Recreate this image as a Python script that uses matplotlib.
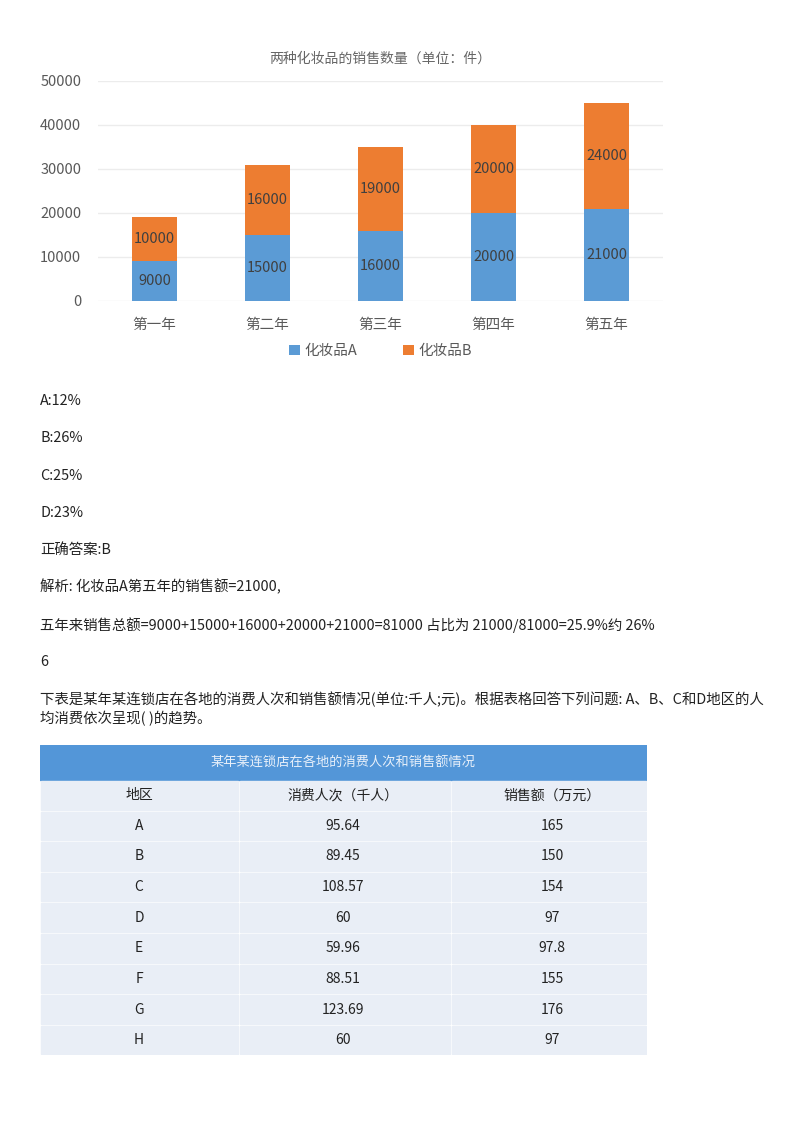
import numpy as np
import matplotlib.pyplot as plt
from matplotlib.patches import Rectangle

plt.rcParams['font.family'] = ['Noto Sans CJK SC', 'DejaVu Sans']

# ---------------------- 数据 ----------------------
years = ['第一年', '第二年', '第三年', '第四年', '第五年']
sales_a = [9000, 15000, 16000, 20000, 21000]
sales_b = [10000, 16000, 19000, 20000, 24000]
chart_title = '两种化妆品的销售数量（单位：件）'

text_lines = [
    'A:12%',
    'B:26%',
    'C:25%',
    'D:23%',
    '正确答案:B',
    '解析: 化妆品A第五年的销售额=21000,',
    '五年来销售总额=9000+15000+16000+20000+21000=81000 占比为 21000/81000=25.9%约 26%',
    '6',
    '下表是某年某连锁店在各地的消费人次和销售额情况(单位:千人;元)。根据表格回答下列问题: A、B、C和D地区的人',
    '均消费依次呈现( )的趋势。',
]
text_y = [401, 438, 476, 513, 550, 587, 625, 662, 699, 719]

table_title = '某年某连锁店在各地的消费人次和销售额情况'
table_cols = ['地区', '消费人次（千人）', '销售额（万元）']
regions = ['A', 'B', 'C', 'D', 'E', 'F', 'G', 'H']
visits = ['95.64', '89.45', '108.57', '60', '59.96', '88.51', '123.69', '60']
revenue = ['165', '150', '154', '97', '97.8', '155', '176', '97']

W, H = 800, 1132
fig = plt.figure(figsize=(W / 100, H / 100), dpi=100)


def px_axes(x0, y0, x1, y1):
    # 以像素(左上角为原点)定义坐标轴位置
    return fig.add_axes([x0 / W, 1 - y1 / H, (x1 - x0) / W, (y1 - y0) / H])


# ---------------------- 柱状图 ----------------------
ax = px_axes(98, 81, 663, 301)
x = np.arange(len(years))
blue, orange = '#5b9bd5', '#ed7d31'
ax.bar(x, sales_a, width=0.4, color=blue, label='化妆品A', zorder=2)
ax.bar(x, sales_b, width=0.4, bottom=sales_a, color=orange, label='化妆品B', zorder=2)
for i in range(len(years)):
    ax.text(x[i], sales_a[i] / 2, str(sales_a[i]), ha='center', va='center',
            fontsize=10.5, color='#404040')
    ax.text(x[i], sales_a[i] + sales_b[i] / 2, str(sales_b[i]), ha='center',
            va='center', fontsize=10.5, color='#404040')
ax.set_xlim(-0.5, 4.5)
ax.set_ylim(0, 50000)
ax.set_yticks(range(0, 50001, 10000))
ax.set_xticks(x)
ax.set_xticklabels(years, fontsize=10.5, color='#595959')
ax.tick_params(axis='y', labelsize=10.5, labelcolor='#595959', length=0, pad=12)
ax.tick_params(axis='x', length=0, pad=12)
ax.grid(axis='y', color='#ececec', linewidth=1, zorder=0)
for s in ax.spines.values():
    s.set_visible(False)
ax.text(0.5, 1.10, chart_title, transform=ax.transAxes, ha='center',
        va='center', fontsize=10, color='#666666')
ax.legend(loc='upper center', bbox_to_anchor=(0.5, -0.135), ncol=2, frameon=False,
          fontsize=10.5, handlelength=0.7, handleheight=0.7, columnspacing=3.2,
          handletextpad=0.3, labelcolor='#595959')

# ---------------------- 正文 ----------------------
for t, yy in zip(text_lines, text_y):
    fig.text(40 / W, 1 - yy / H, t, ha='left', va='center', fontsize=10.4,
             color='#222222')

# ---------------------- 表格 ----------------------
tx0, tx1 = 40, 647
top, header_h, row_h = 745, 35, 30.6
n_rows = len(regions) + 1
tab_bottom = top + header_h + n_rows * row_h
tax = px_axes(tx0, top, tx1, tab_bottom)
tax.set_xlim(tx0, tx1)
tax.set_ylim(tab_bottom, top)
tax.axis('off')

tax.add_patch(Rectangle((tx0, top), tx1 - tx0, header_h, color='#5396d8'))
tax.text((tx0 + tx1) / 2, top + header_h / 2, table_title, ha='center',
         va='center', fontsize=9.5, color='#e8f0fa')

col_edges = [tx0, 239, 451, tx1]
col_centers = [139, 343, 552]
rows = [table_cols] + [[r, v, s] for r, v, s in zip(regions, visits, revenue)]
for i, row in enumerate(rows):
    y0 = top + header_h + i * row_h
    for j in range(3):
        tax.add_patch(Rectangle((col_edges[j] + 1, y0 + 1),
                                col_edges[j + 1] - col_edges[j] - 2, row_h - 2,
                                color='#e9eef6', zorder=1))
        tax.text(col_centers[j], y0 + row_h / 2, row[j], ha='center',
                 va='center', fontsize=10, fontweight='medium',
                 color='#222222', zorder=2)

fig.savefig('out.png', dpi=100, facecolor='white')
